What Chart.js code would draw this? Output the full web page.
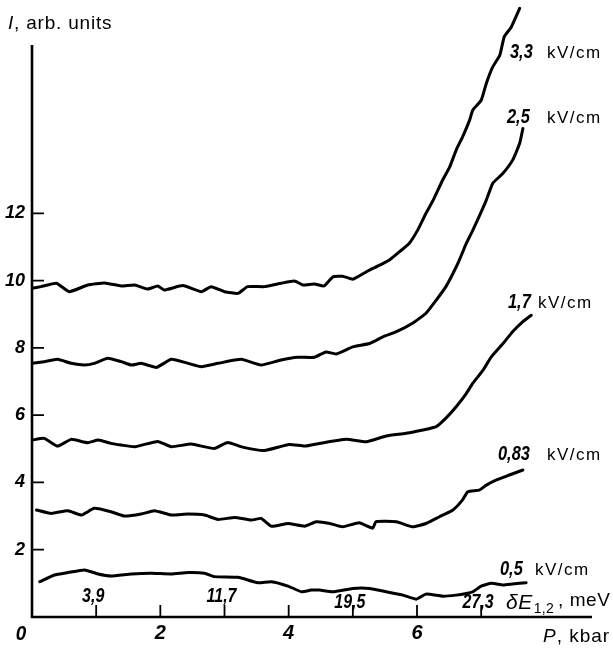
<!DOCTYPE html>
<html><head><meta charset="utf-8">
<script src="https://cdn.jsdelivr.net/npm/chart.js@4.4.1/dist/chart.umd.min.js"></script>
<style>html,body{margin:0;padding:0;background:#fff;overflow:hidden}#wrap{width:613px;height:649px}</style>
</head><body><div id="wrap"><canvas id="c" width="613" height="649"></canvas></div>
<script>
// ---- data ----
const P33 = [0.00,0.14,0.38,0.58,0.87,1.13,1.39,1.60,1.80,1.96,2.06,2.35,2.64,2.79,3.00,3.21,3.36,3.62,3.88,4.09,4.22,4.40,4.55,4.69,4.84,5.00,5.21,5.42,5.57,5.73,5.88,6.01,6.14,6.26,6.40,6.51,6.61,6.71,6.82,6.87,7.00,7.08,7.18,7.29,7.36,7.47,7.60];
const I33 = [9.77,9.82,9.92,9.67,9.87,9.93,9.84,9.87,9.75,9.84,9.72,9.85,9.67,9.82,9.67,9.62,9.82,9.82,9.92,9.99,9.87,9.90,9.84,10.11,10.13,10.04,10.26,10.46,10.61,10.86,11.11,11.50,12.00,12.42,12.99,13.38,13.88,14.27,14.77,15.07,15.36,15.86,16.35,16.70,17.25,17.54,18.09];
const P25 = [0.00,0.19,0.40,0.61,0.82,0.97,1.18,1.39,1.55,1.70,1.94,2.17,2.43,2.64,2.90,3.26,3.57,3.88,4.14,4.40,4.58,4.74,5.00,5.26,5.47,5.68,5.93,6.14,6.30,6.45,6.56,6.66,6.77,6.87,7.00,7.08,7.18,7.34,7.49,7.60,7.65];
const I25 = [7.54,7.59,7.66,7.54,7.49,7.54,7.69,7.59,7.49,7.54,7.42,7.66,7.54,7.44,7.54,7.66,7.49,7.64,7.72,7.72,7.88,7.82,8.03,8.13,8.33,8.48,8.73,9.03,9.42,9.82,10.21,10.61,11.11,11.50,12.04,12.39,12.89,13.19,13.58,14.08,14.52];
const P17 = [0.00,0.19,0.40,0.61,0.87,1.03,1.23,1.39,1.60,1.96,2.17,2.48,2.84,3.05,3.28,3.62,4.01,4.25,4.48,4.90,5.21,5.52,5.83,6.09,6.30,6.45,6.61,6.77,6.87,7.03,7.16,7.34,7.49,7.65,7.78];
const I17 = [5.26,5.31,5.08,5.28,5.18,5.26,5.16,5.11,5.06,5.22,5.06,5.14,5.01,5.19,5.05,4.95,5.13,5.08,5.16,5.28,5.21,5.38,5.46,5.56,5.66,5.91,6.25,6.65,6.95,7.34,7.74,8.13,8.48,8.78,8.97];
const P083 = [0.07,0.30,0.56,0.77,0.97,1.23,1.44,1.70,1.91,2.17,2.43,2.69,2.90,3.16,3.42,3.57,3.73,3.99,4.25,4.43,4.64,4.84,5.10,5.31,5.36,5.68,5.93,6.14,6.35,6.56,6.71,6.79,6.97,7.08,7.23,7.44,7.65];
const I083 = [3.18,3.08,3.16,3.03,3.23,3.13,3.00,3.06,3.16,3.03,3.06,3.03,2.90,2.96,2.88,2.93,2.70,2.78,2.70,2.83,2.78,2.68,2.80,2.64,2.83,2.83,2.68,2.78,2.98,3.18,3.48,3.72,3.77,3.92,4.07,4.22,4.37];
const P05 = [0.12,0.35,0.56,0.82,1.03,1.23,1.55,1.86,2.17,2.43,2.69,2.84,3.21,3.52,3.73,3.99,4.20,4.35,4.48,4.69,5.00,5.26,5.52,5.78,5.99,6.14,6.40,6.61,6.77,6.87,7.00,7.16,7.34,7.49,7.70];
const I05 = [1.05,1.25,1.32,1.40,1.28,1.22,1.28,1.30,1.28,1.32,1.30,1.20,1.18,1.02,1.05,0.92,0.75,0.80,0.80,0.75,0.85,0.85,0.75,0.65,0.53,0.68,0.62,0.65,0.70,0.75,0.92,1.00,0.95,0.98,1.02];

const seriesNames = ['3,3','2,5','1,7','0,83','0,5'];
const seriesUnit = 'kV/cm';
const yTickValues = [2,4,6,8,10,12];
const xTickValues = [2,4,6];
const xMinorTicks = [1,2,3,4,5,6,7];
const dEPositions = [1,3,5,7];
const dELabels = ['3,9','11,7','19,5','27,3'];

// ---- layout / style ----
const NUM_FONT = "'Liberation Sans Narrow','Liberation Sans',Arial,sans-serif";
const TXT_FONT = "'Liberation Sans',Arial,sans-serif";
const X_MAX = 8.727, Y_MAX = 18.34, Y_AXIS_TOP = 17, X_AXIS_END = 8.727;
const seriesLabelPos = [
  {nx:510, ux:547, y:58},
  {nx:507, ux:547, y:123},
  {nx:508, ux:538, y:308},
  {nx:498, ux:547, y:460},
  {nx:500, ux:535, y:575}
];

function zip(xs, ys){ return xs.map((x,i)=>({x:x,y:ys[i]})); }
const allP = [P33,P25,P17,P083,P05], allI = [I33,I25,I17,I083,I05];

function spaced(ctx, txt, x, y, sp){
  ctx.letterSpacing = sp + 'px';
  ctx.fillText(txt, x, y);
  const w = ctx.measureText(txt).width;
  ctx.letterSpacing = '0px';
  return w;
}
function narrow(ctx, txt, x, y, size, sx, align){
  ctx.save();
  ctx.font = "italic bold " + size + "px " + NUM_FONT;
  ctx.textAlign = align;
  ctx.translate(x, y); ctx.scale(sx, 1);
  ctx.fillText(txt, 0, 0);
  ctx.restore();
}

const decor = {
  id:'decor',
  afterDraw(chart){
    const ctx = chart.ctx, xs = chart.scales.x, ys = chart.scales.y;
    const x0 = xs.getPixelForValue(0), y0 = ys.getPixelForValue(0);
    ctx.save();
    ctx.strokeStyle = '#000'; ctx.fillStyle = '#000'; ctx.lineCap = 'butt';
    ctx.textBaseline = 'alphabetic';
    // axes
    ctx.lineWidth = 2.6;
    ctx.beginPath();
    ctx.moveTo(x0, ys.getPixelForValue(Y_AXIS_TOP)); ctx.lineTo(x0, y0+1);
    ctx.moveTo(x0-1, y0); ctx.lineTo(xs.getPixelForValue(X_AXIS_END), y0);
    ctx.stroke();
    // ticks
    ctx.lineWidth = 1.8;
    ctx.beginPath();
    xMinorTicks.forEach(v=>{ const px = xs.getPixelForValue(v); ctx.moveTo(px, y0); ctx.lineTo(px, y0-12); });
    yTickValues.forEach(v=>{ const py = ys.getPixelForValue(v); ctx.moveTo(x0, py); ctx.lineTo(x0+12, py); });
    ctx.stroke();
    // "0" label
    narrow(ctx, '0', 21, 640, 21, 0.9, 'center');
    // dE labels
    dEPositions.forEach((v,i)=>{ narrow(ctx, dELabels[i], xs.getPixelForValue(v)-3, 602 + (i>=2?6:0), 20, 0.8, 'center'); });
    ctx.textAlign = 'left';
    // dE axis name
    ctx.font = "italic 21px " + TXT_FONT;
    let w = spaced(ctx, '\u03B4E', 506, 609, 0.5);
    ctx.font = "14px " + TXT_FONT;
    let w2 = spaced(ctx, '1,2', 506 + w + 1, 613, 0.3);
    ctx.font = "19px " + TXT_FONT;
    spaced(ctx, ' , meV', 505 + w + w2, 606, 0.6);
    // P axis name
    ctx.font = "italic 19px " + TXT_FONT;
    w = spaced(ctx, 'P', 543, 642, 1);
    ctx.font = "19px " + TXT_FONT;
    spaced(ctx, ', kbar', 543 + w, 642, 1);
    // I axis name
    ctx.font = "italic 19px " + TXT_FONT;
    w = spaced(ctx, 'I', 8, 29, 0.8);
    ctx.font = "19px " + TXT_FONT;
    spaced(ctx, ', arb. units', 8 + w, 29, 0.8);
    // series labels
    seriesNames.forEach((s,i)=>{
      const p = seriesLabelPos[i];
      narrow(ctx, s, p.nx, p.y, 20, 0.82, 'left');
      ctx.font = "17px " + TXT_FONT;
      ctx.textAlign = 'left';
      spaced(ctx, seriesUnit, p.ux, p.y, 1.5);
    });
    ctx.restore();
  }
};

new Chart(document.getElementById('c'), {
  type:'line',
  data:{ datasets: allP.map((P,i)=>({
    label: seriesNames[i]+' '+seriesUnit,
    data: zip(P, allI[i]),
    borderColor:'#000', borderWidth:3, pointRadius:0, tension:0.15, fill:false,
    borderCapStyle:'round', borderJoinStyle:'round'
  }))},
  options:{
    responsive:false, animation:false, devicePixelRatio:1,
    layout:{ padding:{ left:0, right:21, top:0, bottom:0 } },
    plugins:{ legend:{display:false}, tooltip:{enabled:false} },
    scales:{
      x:{ type:'linear', min:0, max:X_MAX,
        grid:{display:false, drawTicks:false}, border:{display:false},
        afterBuildTicks(s){ s.ticks = xTickValues.map(v=>({value:v})); },
        afterFit(s){ s.height = 32; s.paddingLeft = 0; s.paddingRight = 0; },
        ticks:{ color:'#000', padding:4, maxRotation:0, font:{family:NUM_FONT, size:20, style:'italic', weight:'bold'} }
      },
      y:{ type:'linear', min:0, max:Y_MAX,
        grid:{display:false, drawTicks:false}, border:{display:false},
        afterBuildTicks(s){ s.ticks = yTickValues.map(v=>({value:v})); },
        afterFit(s){ s.width = 32; s.paddingTop = 0; s.paddingBottom = 0; },
        ticks:{ color:'#000', padding:7, font:{family:NUM_FONT, size:18, style:'italic', weight:'bold'} }
      }
    }
  },
  plugins:[decor]
});
</script>
</body></html>
